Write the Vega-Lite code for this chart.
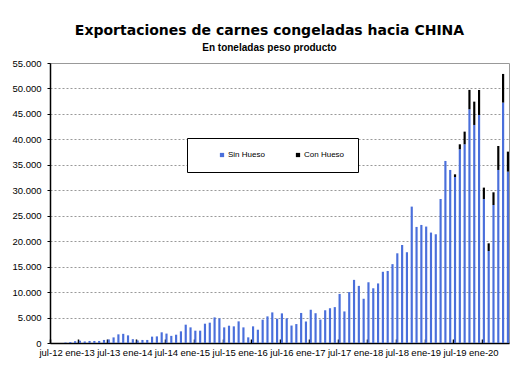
{
  "$schema": "https://vega.github.io/schema/vega-lite/v6.json",
  "autosize": {"type": "none"},
  "width": 459,
  "height": 280,
  "padding": {"left": 50, "top": 63, "right": 12, "bottom": 25},
  "background": "white",
  "title": {
    "text": "Exportaciones de carnes congeladas hacia CHINA",
    "subtitle": "En toneladas peso producto",
    "font": "DejaVu Sans",
    "fontSize": 14,
    "fontWeight": "bold",
    "color": "black",
    "subtitleFont": "Liberation Sans",
    "subtitleFontSize": 10,
    "subtitleFontWeight": "bold",
    "subtitleColor": "black",
    "subtitlePadding": 5,
    "anchor": "middle",
    "frame": "group",
    "dx": -10,
    "offset": 5
  },
  "config": {
    "view": {"stroke": "#999999", "strokeWidth": 1},
    "axis": {"labelFont": "Liberation Sans", "labelColor": "black", "domainColor": "black", "tickColor": "black"}
  },
  "data": {
    "values": [
      {"mes": "jul-12", "tipo": "Sin Hueso", "t": 0},
      {"mes": "ago-12", "tipo": "Sin Hueso", "t": 0},
      {"mes": "sep-12", "tipo": "Sin Hueso", "t": 0},
      {"mes": "oct-12", "tipo": "Sin Hueso", "t": 100},
      {"mes": "nov-12", "tipo": "Sin Hueso", "t": 200},
      {"mes": "dic-12", "tipo": "Sin Hueso", "t": 350},
      {"mes": "ene-13", "tipo": "Sin Hueso", "t": 450},
      {"mes": "feb-13", "tipo": "Sin Hueso", "t": 300},
      {"mes": "mar-13", "tipo": "Sin Hueso", "t": 400},
      {"mes": "abr-13", "tipo": "Sin Hueso", "t": 400},
      {"mes": "may-13", "tipo": "Sin Hueso", "t": 400},
      {"mes": "jun-13", "tipo": "Sin Hueso", "t": 600},
      {"mes": "jul-13", "tipo": "Sin Hueso", "t": 700},
      {"mes": "ago-13", "tipo": "Sin Hueso", "t": 1100},
      {"mes": "sep-13", "tipo": "Sin Hueso", "t": 1700},
      {"mes": "oct-13", "tipo": "Sin Hueso", "t": 1800},
      {"mes": "nov-13", "tipo": "Sin Hueso", "t": 1500},
      {"mes": "dic-13", "tipo": "Sin Hueso", "t": 750},
      {"mes": "ene-14", "tipo": "Sin Hueso", "t": 500},
      {"mes": "feb-14", "tipo": "Sin Hueso", "t": 600},
      {"mes": "mar-14", "tipo": "Sin Hueso", "t": 600},
      {"mes": "abr-14", "tipo": "Sin Hueso", "t": 1250},
      {"mes": "may-14", "tipo": "Sin Hueso", "t": 1300},
      {"mes": "jun-14", "tipo": "Sin Hueso", "t": 2100},
      {"mes": "jul-14", "tipo": "Sin Hueso", "t": 1850},
      {"mes": "ago-14", "tipo": "Sin Hueso", "t": 1400},
      {"mes": "sep-14", "tipo": "Sin Hueso", "t": 1630},
      {"mes": "oct-14", "tipo": "Sin Hueso", "t": 2290},
      {"mes": "nov-14", "tipo": "Sin Hueso", "t": 3600},
      {"mes": "dic-14", "tipo": "Sin Hueso", "t": 3070},
      {"mes": "ene-15", "tipo": "Sin Hueso", "t": 2420},
      {"mes": "feb-15", "tipo": "Sin Hueso", "t": 2420},
      {"mes": "mar-15", "tipo": "Sin Hueso", "t": 3790},
      {"mes": "abr-15", "tipo": "Sin Hueso", "t": 3990},
      {"mes": "may-15", "tipo": "Sin Hueso", "t": 5030},
      {"mes": "jun-15", "tipo": "Sin Hueso", "t": 4840},
      {"mes": "jul-15", "tipo": "Sin Hueso", "t": 3070},
      {"mes": "ago-15", "tipo": "Sin Hueso", "t": 3400},
      {"mes": "sep-15", "tipo": "Sin Hueso", "t": 3270},
      {"mes": "oct-15", "tipo": "Sin Hueso", "t": 4250},
      {"mes": "nov-15", "tipo": "Sin Hueso", "t": 3070},
      {"mes": "dic-15", "tipo": "Sin Hueso", "t": 1110},
      {"mes": "ene-16", "tipo": "Sin Hueso", "t": 3270},
      {"mes": "feb-16", "tipo": "Sin Hueso", "t": 2610},
      {"mes": "mar-16", "tipo": "Sin Hueso", "t": 4580},
      {"mes": "abr-16", "tipo": "Sin Hueso", "t": 5230},
      {"mes": "may-16", "tipo": "Sin Hueso", "t": 6010},
      {"mes": "jun-16", "tipo": "Sin Hueso", "t": 4770},
      {"mes": "jul-16", "tipo": "Sin Hueso", "t": 5820},
      {"mes": "ago-16", "tipo": "Sin Hueso", "t": 4840},
      {"mes": "sep-16", "tipo": "Sin Hueso", "t": 3430},
      {"mes": "oct-16", "tipo": "Sin Hueso", "t": 3720},
      {"mes": "nov-16", "tipo": "Sin Hueso", "t": 5900},
      {"mes": "dic-16", "tipo": "Sin Hueso", "t": 4220},
      {"mes": "ene-17", "tipo": "Sin Hueso", "t": 6530},
      {"mes": "feb-17", "tipo": "Sin Hueso", "t": 5850},
      {"mes": "mar-17", "tipo": "Sin Hueso", "t": 4600},
      {"mes": "abr-17", "tipo": "Sin Hueso", "t": 6430},
      {"mes": "may-17", "tipo": "Sin Hueso", "t": 6830},
      {"mes": "jun-17", "tipo": "Sin Hueso", "t": 7050},
      {"mes": "jul-17", "tipo": "Sin Hueso", "t": 9640},
      {"mes": "ago-17", "tipo": "Sin Hueso", "t": 6200},
      {"mes": "sep-17", "tipo": "Sin Hueso", "t": 10000},
      {"mes": "oct-17", "tipo": "Sin Hueso", "t": 12400},
      {"mes": "nov-17", "tipo": "Sin Hueso", "t": 11220},
      {"mes": "dic-17", "tipo": "Sin Hueso", "t": 8690},
      {"mes": "ene-18", "tipo": "Sin Hueso", "t": 11930},
      {"mes": "feb-18", "tipo": "Sin Hueso", "t": 10750},
      {"mes": "mar-18", "tipo": "Sin Hueso", "t": 11700},
      {"mes": "abr-18", "tipo": "Sin Hueso", "t": 13990},
      {"mes": "may-18", "tipo": "Sin Hueso", "t": 14150},
      {"mes": "jun-18", "tipo": "Sin Hueso", "t": 15490},
      {"mes": "jul-18", "tipo": "Sin Hueso", "t": 17620},
      {"mes": "ago-18", "tipo": "Sin Hueso", "t": 19250},
      {"mes": "sep-18", "tipo": "Sin Hueso", "t": 17830},
      {"mes": "oct-18", "tipo": "Sin Hueso", "t": 26790},
      {"mes": "nov-18", "tipo": "Sin Hueso", "t": 22800},
      {"mes": "dic-18", "tipo": "Sin Hueso", "t": 23190},
      {"mes": "ene-19", "tipo": "Sin Hueso", "t": 22870},
      {"mes": "feb-19", "tipo": "Sin Hueso", "t": 21690},
      {"mes": "mar-19", "tipo": "Sin Hueso", "t": 21360},
      {"mes": "abr-19", "tipo": "Sin Hueso", "t": 28290},
      {"mes": "may-19", "tipo": "Sin Hueso", "t": 35760},
      {"mes": "jun-19", "tipo": "Sin Hueso", "t": 33990},
      {"mes": "jul-19", "tipo": "Sin Hueso", "t": 32610},
      {"mes": "ago-19", "tipo": "Sin Hueso", "t": 38050},
      {"mes": "sep-19", "tipo": "Sin Hueso", "t": 39030},
      {"mes": "oct-19", "tipo": "Sin Hueso", "t": 45910},
      {"mes": "nov-19", "tipo": "Sin Hueso", "t": 42830},
      {"mes": "dic-19", "tipo": "Sin Hueso", "t": 44790},
      {"mes": "ene-20", "tipo": "Sin Hueso", "t": 28290},
      {"mes": "feb-20", "tipo": "Sin Hueso", "t": 18070},
      {"mes": "mar-20", "tipo": "Sin Hueso", "t": 27110},
      {"mes": "abr-20", "tipo": "Sin Hueso", "t": 33990},
      {"mes": "may-20", "tipo": "Sin Hueso", "t": 47220},
      {"mes": "jun-20", "tipo": "Sin Hueso", "t": 33660},
      {"mes": "jul-19", "tipo": "Con Hueso", "t": 520},
      {"mes": "ago-19", "tipo": "Con Hueso", "t": 980},
      {"mes": "sep-19", "tipo": "Con Hueso", "t": 2490},
      {"mes": "oct-19", "tipo": "Con Hueso", "t": 3800},
      {"mes": "nov-19", "tipo": "Con Hueso", "t": 4580},
      {"mes": "dic-19", "tipo": "Con Hueso", "t": 4910},
      {"mes": "ene-20", "tipo": "Con Hueso", "t": 2230},
      {"mes": "feb-20", "tipo": "Con Hueso", "t": 1510},
      {"mes": "mar-20", "tipo": "Con Hueso", "t": 2490},
      {"mes": "abr-20", "tipo": "Con Hueso", "t": 4710},
      {"mes": "may-20", "tipo": "Con Hueso", "t": 5630},
      {"mes": "jun-20", "tipo": "Con Hueso", "t": 3930}
    ]
  },
  "mark": {"type": "bar"},
  "encoding": {
    "x": {
      "field": "mes",
      "type": "nominal",
      "sort": null,
      "scale": {"paddingInner": 0.55, "paddingOuter": 0},
      "axis": {
        "title": null,
        "values": ["jul-12", "ene-13", "jul-13", "ene-14", "jul-14", "ene-15", "jul-15", "ene-16", "jul-16", "ene-17", "jul-17", "ene-18", "jul-18", "ene-19", "jul-19", "ene-20"],
        "bandPosition": 0,
        "labelAngle": 0,
        "labelFontSize": 9.5,
        "labelPadding": 8,
        "tickSize": -4,
        "tickWidth": 1.5,
        "domainWidth": 1.5,
        "labelAlign": "center",
        "labelOverlap": false
      }
    },
    "y": {
      "field": "t",
      "type": "quantitative",
      "stack": "zero",
      "scale": {"domain": [0, 55000], "nice": false},
      "axis": {
        "title": null,
        "values": [0, 5000, 10000, 15000, 20000, 25000, 30000, 35000, 40000, 45000, 50000, 55000],
        "labelExpr": "replace(format(datum.value, ',d'), ',', '.')",
        "labelFontSize": 9.5,
        "tickSize": 3,
        "labelPadding": 6,
        "grid": true,
        "gridColor": "#999999",
        "gridDash": [2, 2],
        "gridWidth": 1,
        "domainWidth": 1.5
      }
    },
    "color": {
      "field": "tipo",
      "type": "nominal",
      "scale": {"domain": ["Sin Hueso", "Con Hueso"], "range": ["#4A6FDB", "#000000"]},
      "legend": {
        "title": null,
        "orient": "none",
        "legendX": 137,
        "legendY": 75,
        "direction": "horizontal",
        "strokeColor": "black",
        "fillColor": "white",
        "padding": 13,
        "symbolOffset": 18,
        "columnPadding": 11,
        "symbolType": "square",
        "symbolSize": 18,
        "symbolStrokeWidth": 0,
        "labelFont": "Liberation Sans",
        "labelFontSize": 8,
        "labelOffset": 2,
        "labelColor": "black",
        "labelExpr": "datum.label == 'Con Hueso' ? 'Con Hueso\u00a0\u00a0\u00a0\u00a0\u00a0\u00a0\u00a0\u00a0' : datum.label"
      }
    },
    "order": {"field": "tipo", "sort": "descending"}
  }
}
